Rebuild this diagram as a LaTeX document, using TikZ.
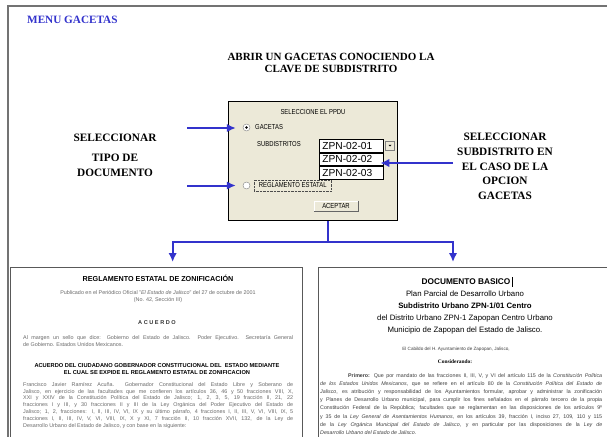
\documentclass[tikz,border=0pt]{standalone}
\usepackage{fontspec}
\setmainfont{Liberation Serif}
\setsansfont{Liberation Sans}
\newfontfamily\tahoma[FakeStretch=0.82]{Liberation Sans}
\usetikzlibrary{calc,arrows.meta}
\definecolor{azul}{RGB}{51,51,204}
\definecolor{crema}{RGB}{236,233,216}
\definecolor{grisletra}{RGB}{105,105,105}
\tikzstyle{rotulo} = [font=\bfseries\fontsize{11.3}{14.7}\selectfont, align=center, inner sep=0]
\tikzstyle{flecha} = [draw=azul, line width=2, -{Latex[length=9pt, width=8.5pt]}]
\tikzstyle{ventana} = [rectangle, draw=black, line width=1.2, fill=crema, anchor=north west, minimum width=169, minimum height=119]
\tikzstyle{etiqueta} = [font=\tahoma\fontsize{7.2}{8}\selectfont, inner sep=0]
\tikzstyle{lista} = [rectangle, draw=black, line width=0.8, fill=white, anchor=north west, text width=58, minimum height=12.7, inner xsep=3, inner ysep=0, font=\sffamily\fontsize{10.2}{10.2}\selectfont]
\tikzstyle{radio} = [circle, draw=gray, fill=white, minimum size=7, inner sep=0]
\tikzstyle{hoja} = [rectangle, draw=black!65, line width=1.3, fill=white, anchor=north west]
\tikzstyle{texto} = [font=\sffamily\fontsize{5.4}{6.9}\selectfont, text=grisletra, inner sep=0]

\begin{document}
\begin{tikzpicture}[x=1pt, y=-1pt]

        \useasboundingbox (0,0) rectangle (607,436);

        %% frame and titles
        \draw[line width=1.5, black!55] (8,440) |- (612,6);
        \node (menu) [anchor=west, inner sep=0, text=azul, font=\bfseries\fontsize{11.2}{13}\selectfont] at (27,20) {MENU GACETAS};
        \node (titulo) [rotulo, font=\bfseries\fontsize{11}{12}\selectfont] at (331,63) {ABRIR UN GACETAS CONOCIENDO LA\\CLAVE DE SUBDISTRITO};

        %% dialog
        \node (panel) [ventana] at (228,101) {};
        \node (ppdu) [etiqueta] at (313,112) {SELECCIONE EL PPDU};
        \node (rgac) [radio] at (246.5,127.5) {};
        \fill (rgac.center) circle (1.4);
        \node (gac) [etiqueta, anchor=west] at (255,127.5) {GACETAS};
        \node (subs) [etiqueta, anchor=west] at (257,144) {SUBDISTRITOS};
        \node (zpn1) [lista] at (319,139) {ZPN-02-01};
        \node (zpn2) [lista] at (zpn1.south west) {ZPN-02-02};
        \node (zpn3) [lista] at (zpn2.south west) {ZPN-02-03};
        \node (despl) [rectangle, draw=gray, fill=crema, minimum size=9, inner sep=0] at (390,145.5) {};
        \fill ($(despl.center)+(-1.5,-0.6)$) -- ++(3,0) -- ++(-1.5,1.6) -- cycle;
        \node (rreg) [radio] at (246.5,185.5) {};
        \node (reg) [etiqueta, anchor=west, draw=black!70, densely dotted, minimum height=11, minimum width=77, inner xsep=2] at (254,185.5) {REGLAMENTO ESTATAL};
        \node (aceptar) [etiqueta, draw=white, fill=crema, minimum width=44, minimum height=10] at (336,206) {ACEPTAR};
        \draw[black!60, line width=1] (aceptar.north east) -- (aceptar.south east) -- (aceptar.south west);

        %% side labels
        \node (tipo) [rotulo, anchor=north] at (115,134) {SELECCIONAR\\[5pt]TIPO DE\\DOCUMENTO};
        \node (subd) [rotulo, anchor=north] at (505,133) {SELECCIONAR\\SUBDISTRITO EN\\EL CASO DE LA\\OPCION\\GACETAS};

        \coordinate (ini1) at (187,128);
        \coordinate (ini2) at (187,185.5);
        \coordinate (ini3) at (453,163);
        \draw[flecha, shorten >=7] (ini1) -- (ini1 -| rgac.west);
        \draw[flecha, shorten >=7] (ini2) -- (ini2 -| rreg.west);
        \draw[flecha, shorten >=-3.5] (ini3) -- (ini3 -| zpn2.east);

        %% documents
        \node (regl) [hoja, minimum width=292, minimum height=185] at (10,267) {};
        \node (basico) [hoja, minimum width=300, minimum height=185] at (318,267) {};

        \coordinate (rama) at (328,242);
        \draw[azul, line width=2] (panel.south -| rama) -- (rama);
        \draw[flecha] (rama) -| ($(regl.north)+(16,-5)$);
        \draw[flecha] (rama) -| ($(basico.north west)+(135,-5)$);

        %% reglamento text
        \node (t1) [texto, font=\sffamily\bfseries\fontsize{7.2}{8}\selectfont, text=black] at (158,278) {REGLAMENTO ESTATAL DE ZONIFICACIÓN};
        \node (t2) [texto, align=center] at (158,297) {Publicado en el Periódico Oficial "\textit{El Estado de Jalisco}" del 27 de octubre de 2001\\(No. 42, Sección III)};
        \node (t3) [texto, font=\sffamily\bfseries\fontsize{5.6}{7}\selectfont, text=black!80] at (157,323) {A C U E R D O};
        \node (t4) [texto, text width=270, align=justify, anchor=north west] at (23,335) {Al margen un sello que dice: Gobierno del Estado de Jalisco.\ \ Poder Ejecutivo.\ \ Secretaría General\linebreak de Gobierno. Estados Unidos Mexicanos.};
        \node (t5) [texto, font=\sffamily\bfseries\fontsize{5.7}{7}\selectfont, text=black, align=center] at (157,369) {ACUERDO DEL CIUDADANO GOBERNADOR CONSTITUCIONAL DEL\ \ ESTADO MEDIANTE\\EL CUAL SE EXPIDE EL REGLAMENTO ESTATAL DE ZONIFICACION};
        \node (t6) [texto, text width=270, align=justify, anchor=north west] at (23,382) {Francisco Javier Ramírez Acuña.\ \ Gobernador Constitucional del Estado Libre y Soberano de\linebreak
            Jalisco, en ejercicio de las facultades que me confieren los artículos 36, 46 y 50 fracciones VIII, X,\linebreak
            XXI y XXIV de la Constitución Política del Estado de Jalisco; 1, 2, 3, 5, 19 fracción II, 21, 22\linebreak
            fracciones I y III, y 30 fracciones II y III de la Ley Orgánica del Poder Ejecutivo del Estado de\linebreak
            Jalisco; 1, 2, fracciones: I, II, III, IV, VI, IX y su último párrafo, 4 fracciones I, II, III, V, VI, VIII, IX, 5\linebreak
            fracciones I, II, III, IV, V, VI, VIII, IX, X y XI, 7 fracción II, 10 fracción XVII, 132, de la Ley de\linebreak
            Desarrollo Urbano del Estado de Jalisco, y con base en la siguiente:};

        %% documento basico text
        \node (r1) [font=\sffamily\bfseries\fontsize{8.3}{10}\selectfont, inner sep=0] at (466,282) {DOCUMENTO BASICO};
        \draw[line width=0.6] ($(r1.east)+(1.5,-5)$) -- ++(0,10);
        \node (r2) [inner sep=0, align=center, font=\sffamily\fontsize{7.8}{11.7}\selectfont] at (465,312.5) {Plan Parcial de Desarrollo Urbano\\\textbf{Subdistrito Urbano ZPN-1/01 Centro}\\del Distrito Urbano ZPN-1 Zapopan Centro Urbano\\Municipio de Zapopan del Estado de Jalisco.};
        \node (r3) [texto, font=\sffamily\fontsize{4.6}{6}\selectfont, text=black!75] at (456,349) {El Cabildo del H. Ayuntamiento de Zapopan, Jalisco,};
        \node (r4) [font=\bfseries\fontsize{5.4}{6}\selectfont, inner sep=0] at (455,362) {Considerando:};
        \node (r5) [texto, text width=282, align=justify, anchor=north west, font=\sffamily\fontsize{5.3}{8.2}\selectfont, text=black!75] at (320,373) {\hspace*{28pt}\textbf{Primero:} Que por mandato de las fracciones II, III, V, y VI del artículo 115 de la \textit{Constitución Política}\linebreak
            \textit{de los Estados Unidos Mexicanos}, que se refiere en el artículo 80 de la \textit{Constitución Política del Estado de}\linebreak
            \textit{Jalisco}, es atribución y responsabilidad de los Ayuntamientos formular, aprobar y administrar la zonificación\linebreak
            y Planes de Desarrollo Urbano municipal, para cumplir los fines señalados en el párrafo tercero de la propia\linebreak
            Constitución Federal de la República; facultades que se reglamentan en las disposiciones de los artículos 9º\linebreak
            y 35 de la \textit{Ley General de Asentamientos Humanos}, en los artículos 39, fracción I, inciso 27, 109, 110 y 115\linebreak
            de la \textit{Ley Orgánica Municipal del Estado de Jalisco}, y en particular por las disposiciones de la \textit{Ley de}\linebreak
            \textit{Desarrollo Urbano del Estado de Jalisco}.};

    \end{tikzpicture}
\end{document}
